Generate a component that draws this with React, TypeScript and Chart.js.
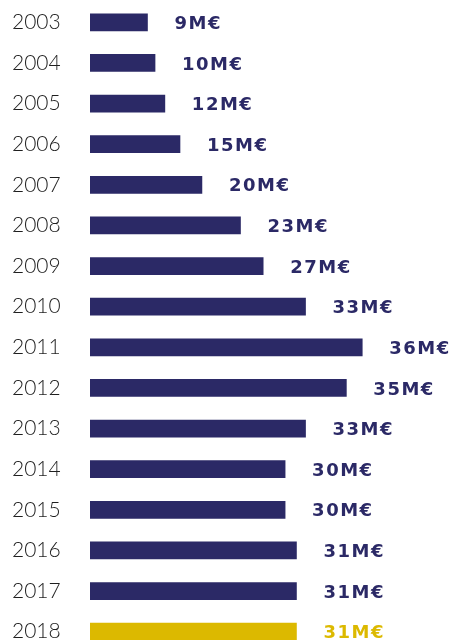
import React, { useEffect, useRef } from "react";
import { Chart, registerables } from "chart.js";

Chart.register(...registerables);

// Years (categories)
const years = [
  "2003", "2004", "2005", "2006", "2007", "2008", "2009", "2010",
  "2011", "2012", "2013", "2014", "2015", "2016", "2017", "2018",
];
// Amounts printed next to each bar (M€)
const amounts = [9, 10, 12, 15, 20, 23, 27, 33, 36, 35, 33, 30, 30, 31, 31, 31];
// Bar lengths as drawn in the picture (same scale as the 36 M€ bar)
const barLengths = [7.6, 8.6, 9.9, 11.9, 14.8, 19.9, 22.9, 28.5, 36, 33.9, 28.5, 25.8, 25.8, 27.3, 27.3, 27.3];
const highlightIndex = 15;

const NAVY = "#2b2966";
const GOLD = "#dcb900";

export default function App() {
  const canvasRef = useRef<HTMLCanvasElement | null>(null);

  useEffect(() => {
    if (!canvasRef.current) return;
    const colors = years.map((_, i) => (i === highlightIndex ? GOLD : NAVY));

    const valueLabels = {
      id: "valueLabels",
      afterDatasetsDraw(chart: any) {
        const ctx = chart.ctx;
        const meta = chart.getDatasetMeta(0);
        ctx.save();
        ctx.font = "bold 18px 'DejaVu Sans'";
        (ctx as any).letterSpacing = "1.5px";
        ctx.textAlign = "left";
        ctx.textBaseline = "middle";
        meta.data.forEach((el: any, i: number) => {
          ctx.fillStyle = colors[i];
          ctx.fillText(amounts[i] + "M€", el.x + 27, el.y + 2);
        });
        ctx.restore();
      },
    };

    const chart = new Chart(canvasRef.current, {
      type: "bar",
      data: {
        labels: years,
        datasets: [
          {
            data: barLengths,
            backgroundColor: colors,
            borderWidth: 0,
            barThickness: 17,
          },
        ],
      },
      options: {
        indexAxis: "y",
        animation: false,
        responsive: true,
        maintainAspectRatio: false,
        layout: { padding: { left: 12, top: 2, right: 2, bottom: 1 } },
        plugins: {
          legend: { display: false },
          tooltip: { enabled: false },
        },
        scales: {
          x: {
            display: false,
            min: 0,
            max: 48,
          },
          y: {
            grid: { display: false },
            border: { display: false },
            afterFit: (scale: any) => {
              scale.width = 78;
              scale.paddingTop = 0;
              scale.paddingBottom = 0;
            },
            ticks: {
              crossAlign: "far",
              color: "#1e1e1e",
              font: { family: "Lato", size: 21, weight: "300" },
              padding: 0,
            },
          },
        },
      },
      plugins: [valueLabels],
    });
    return () => chart.destroy();
  }, []);

  return (
    <div
      style={{
        position: "absolute",
        left: 0,
        top: 0,
        width: 455,
        height: 640,
        overflow: "hidden",
        background: "#fff",
      }}
    >
      <div style={{ position: "relative", width: 455, height: 653 }}>
        <canvas ref={canvasRef} />
      </div>
    </div>
  );
}
